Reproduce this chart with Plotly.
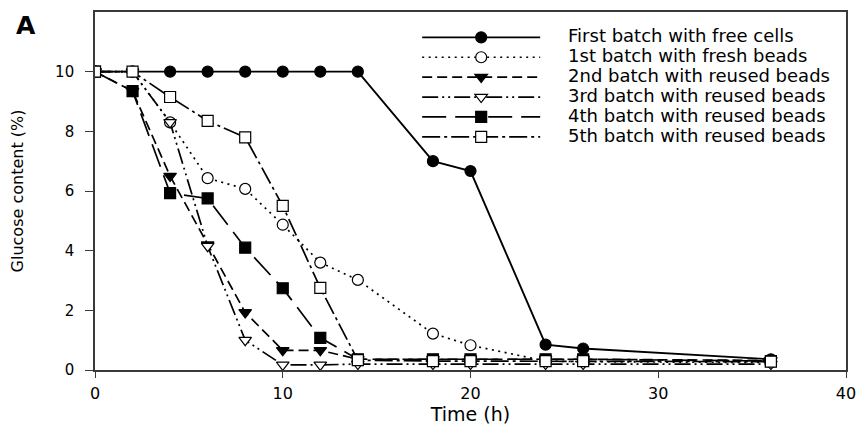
import plotly.graph_objects as go

# Sampling times (h)
time_h = [0, 2, 4, 6, 8, 10, 12, 14, 18, 20, 24, 26, 36]

# Glucose content (%) for each batch
free_cells = [10, 10, 10, 10, 10, 10, 10, 10, 7.0, 6.67, 0.85, 0.72, 0.36]
fresh_beads_1st = [10, 10, 8.3, 6.43, 6.07, 4.87, 3.6, 3.02, 1.22, 0.83, 0.3, 0.28, 0.25]
reused_2nd = [10, 9.35, 6.5, 4.2, 1.93, 0.66, 0.66, 0.36, 0.36, 0.36, 0.36, 0.36, 0.32]
reused_3rd = [10, 10, 8.3, 4.15, 1.0, 0.17, 0.17, 0.2, 0.2, 0.2, 0.2, 0.2, 0.2]
reused_4th = [10, 9.35, 5.93, 5.75, 4.1, 2.74, 1.08, 0.36, 0.36, 0.36, 0.36, 0.36, 0.3]
reused_5th = [10, 10, 9.15, 8.35, 7.8, 5.5, 2.75, 0.33, 0.3, 0.3, 0.3, 0.3, 0.28]

series_names = [
    "First batch with free cells",
    "1st batch with fresh beads",
    "2nd batch with reused beads",
    "3rd batch with reused beads",
    "4th batch with reused beads",
    "5th batch with reused beads",
]

x_ticks = [0, 10, 20, 30, 40]
y_ticks = [0, 2, 4, 6, 8, 10]

FONT = "DejaVu Sans, Arial, sans-serif"
AXIS_COLOR = "#3a3a3a"
NBSP = "\u00a0"

styles = [
    dict(dash="solid", symbol="circle", fill="black"),
    dict(dash="2px,4.5px", symbol="circle", fill="white"),
    dict(dash="10px,5px", symbol="triangle-down", fill="black"),
    dict(dash="16px,4px,2px,4px,2px,4px", symbol="triangle-down", fill="white"),
    dict(dash="24px,9px", symbol="square", fill="black"),
    dict(dash="18px,4px,3px,4px", symbol="square", fill="white"),
]

all_series = [free_cells, fresh_beads_1st, reused_2nd, reused_3rd, reused_4th, reused_5th]

fig = go.Figure()
for name, ys, st in zip(series_names, all_series, styles):
    fig.add_trace(go.Scatter(
        x=time_h, y=ys,
        # legend entries: larger glyphs than the row spacing font, small lead gap
        name=f'<span style="font-size:18px">{NBSP * 4}{name}</span>',
        mode="lines+markers",
        line=dict(color="black", width=1.9 if st["dash"] == "solid" else 1.7, dash=st["dash"]),
        marker=dict(symbol=st["symbol"], size=11,
                    color=st["fill"], line=dict(color="black", width=1.2)),
    ))

fig.update_layout(
    width=866, height=430,
    margin=dict(l=95, r=10, t=12, b=53),
    paper_bgcolor="white", plot_bgcolor="white",
    font=dict(family=FONT, color="black", size=15),
    showlegend=True,
    legend=dict(
        x=0.429, y=0.971, xanchor="left", yanchor="top",
        bgcolor="rgba(0,0,0,0)", borderwidth=0,
        font=dict(family=FONT, size=13, color="black"),
        itemwidth=118, tracegroupgap=0,
    ),
    xaxis=dict(
        range=[0, 40], tickvals=x_ticks, ticks="outside", ticklen=6,
        tickcolor=AXIS_COLOR, showline=True, linecolor=AXIS_COLOR, linewidth=1.6,
        mirror=True, showgrid=False, zeroline=False,
        tickfont=dict(size=16), ticklabelstandoff=2,
        title=dict(text="Time (h)", font=dict(size=19), standoff=4),
    ),
    yaxis=dict(
        range=[0, 12], tickvals=y_ticks, ticks="outside", ticklen=8,
        tickcolor=AXIS_COLOR, showline=True, linecolor=AXIS_COLOR, linewidth=1.6,
        mirror=True, showgrid=False, zeroline=False,
        tickfont=dict(size=15), ticklabelstandoff=8,
        title=dict(text="Glucose content (%)", font=dict(size=16), standoff=28),
    ),
    annotations=[dict(
        text="<b>A</b>", x=-0.108, y=1.008, xref="paper", yref="paper",
        xanchor="left", yanchor="top", showarrow=False,
        font=dict(family=FONT, size=25, color="black"),
    )],
)

fig.write_html("out.html")
